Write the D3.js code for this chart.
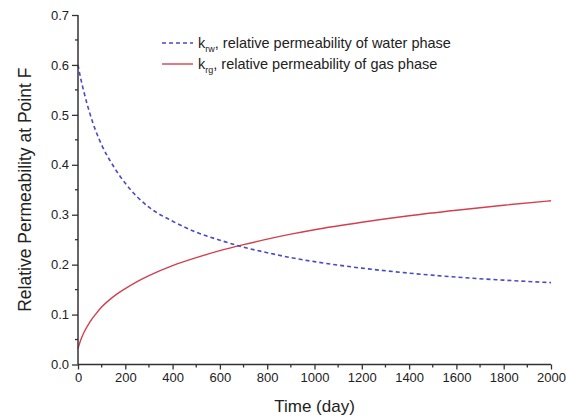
<!DOCTYPE html>
<html><head><meta charset="utf-8">
<script src="https://cdn.jsdelivr.net/npm/d3@7"></script>
<style>body{margin:0;background:#fff}svg{display:block}text{font-family:"Liberation Sans",Arial,sans-serif;fill:#222}</style>
</head><body><svg id="c" width="566" height="418"></svg>
<script>
const days = [0,10,25,50,75,100,150,200,250,300,400,500,600,700,800,900,1000,1200,1400,1600,1800,2000];
const krw  = [0.600,0.576,0.546,0.503,0.468,0.440,0.397,0.363,0.336,0.315,0.287,0.265,0.249,0.235,0.224,0.214,0.206,0.193,0.183,0.175,0.169,0.164];
const krg  = [0.032,0.047,0.064,0.085,0.101,0.115,0.136,0.152,0.166,0.178,0.198,0.214,0.228,0.240,0.251,0.261,0.270,0.285,0.298,0.309,0.319,0.328];
const xTicks = [0,200,400,600,800,1000,1200,1400,1600,1800,2000];
const yTicks = [0.0,0.1,0.2,0.3,0.4,0.5,0.6,0.7];
const legendNames = [["k","rw",", relative permeability of water phase"],["k","rg",", relative permeability of gas phase"]];

const svg = d3.select("#c");
const x = d3.scaleLinear().domain([0,2000]).range([78,551]);
const y = d3.scaleLinear().domain([0,0.7]).range([364.5,15]);
const axisCol = "#333";

// curves
const line = d3.line().x(d=>x(d[0])).y(d=>y(d[1])).curve(d3.curveMonotoneX);
svg.append("path").datum(days.map((d,i)=>[d,krg[i]])).attr("d",line)
  .attr("fill","none").attr("stroke","#d2404f").attr("stroke-width",1.4);
svg.append("path").datum(days.map((d,i)=>[d,krw[i]])).attr("d",line)
  .attr("fill","none").attr("stroke","#4a4ac4").attr("stroke-width",1.6).attr("stroke-dasharray","4,3");

// axes
const xAxis = d3.axisBottom(x).tickValues(xTicks).tickFormat(d3.format("d")).tickSize(5).tickPadding(3);
const gx = svg.append("g").attr("transform",`translate(0,${y(0)})`).call(xAxis);
const yAxis = d3.axisLeft(y).tickValues(yTicks).tickFormat(d3.format(".1f")).tickSize(6).tickPadding(3);
const gy = svg.append("g").attr("transform",`translate(${x(0)},0)`).call(yAxis);
[gx,gy].forEach(g=>{
  g.select(".domain").attr("stroke",axisCol).attr("stroke-width",1.5);
  g.selectAll(".tick line").attr("stroke",axisCol).attr("stroke-width",1.3);
  g.selectAll(".tick text").attr("font-size",13).attr("fill","#222").attr("font-family","Liberation Sans, Arial, sans-serif");
});
gx.select(".domain").attr("d",`M${x(0)},0H${x(2000)}`);
gy.select(".domain").attr("d",`M0,${y(0)}V${y(0.7)}`);
// minor ticks
const xMinor = d3.range(100,2000,200);
gx.selectAll(".minor").data(xMinor).enter().append("line")
  .attr("x1",d=>x(d)).attr("x2",d=>x(d)).attr("y1",0).attr("y2",3).attr("stroke",axisCol).attr("stroke-width",1.3);
const yMinor = d3.range(0.05,0.7,0.1);
gy.selectAll(".minor").data(yMinor).enter().append("line")
  .attr("y1",d=>y(d)).attr("y2",d=>y(d)).attr("x1",0).attr("x2",-3).attr("stroke",axisCol).attr("stroke-width",1.3);

// titles
svg.append("text").attr("x",(x(0)+x(2000))/2).attr("y",412).attr("text-anchor","middle")
  .attr("font-size",17).text("Time (day)");
svg.append("text").attr("transform",`translate(31,${(y(0)+y(0.7))/2}) rotate(-90)`).attr("text-anchor","middle")
  .attr("font-size",17.5).text("Relative Permeability at Point F");

// legend
const leg = svg.append("g");
const legY = [43,64];
const styles = [{c:"#4a4ac4",dash:"4,3",w:1.6},{c:"#d2404f",dash:null,w:1.4}];
legendNames.forEach((n,i)=>{
  leg.append("line").attr("x1",162).attr("x2",193).attr("y1",legY[i]).attr("y2",legY[i])
    .attr("stroke",styles[i].c).attr("stroke-width",styles[i].w).attr("stroke-dasharray",styles[i].dash);
  const t = leg.append("text").attr("x",198).attr("y",legY[i]+5).attr("font-size",14.5);
  t.append("tspan").text(n[0]);
  t.append("tspan").attr("font-size",9).attr("dy",4).text(n[1]);
  t.append("tspan").attr("dy",-4).text(n[2]);
});
</script></body></html>
